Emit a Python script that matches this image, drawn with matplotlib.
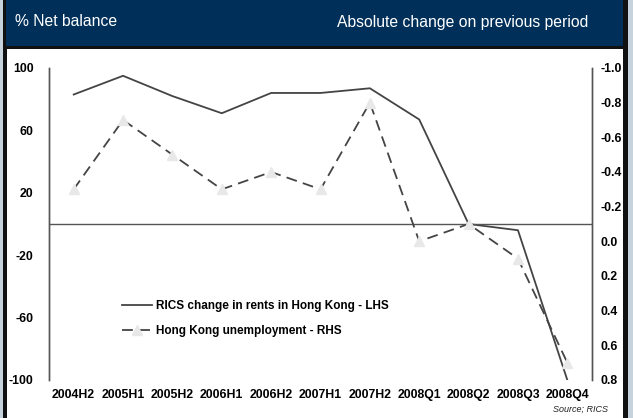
import numpy as np
import matplotlib.pyplot as plt
from matplotlib.patches import Rectangle

plt.rcParams['font.family'] = ['Liberation Sans', 'DejaVu Sans']
plt.rcParams['axes.unicode_minus'] = False

periods = ["2004H2", "2005H1", "2005H2", "2006H1", "2006H2", "2007H1",
           "2007H2", "2008Q1", "2008Q2", "2008Q3", "2008Q4"]
# RICS rents balance (% net balance, left axis)
rics_rents = [83, 95, 82, 71, 84, 84, 87, 67, 0, -4, -100]
# unemployment change (right axis, inverted)
unemployment = [-0.3, -0.7, -0.5, -0.3, -0.4, -0.3, -0.8, 0.0, -0.1, 0.1, 0.7]

left_ticks = [100, 60, 20, -20, -60, -100]
right_ticks = [-1.0, -0.8, -0.6, -0.4, -0.2, 0.0, 0.2, 0.4, 0.6, 0.8]

W, H = 633, 418
fig = plt.figure(figsize=(W / 100, H / 100), dpi=100)
fig.patch.set_facecolor('#c6d3dd')


def box(x, y, w, h, color):
    # rectangle given in pixels from the top-left corner
    fig.add_artist(Rectangle((x / W, 1 - (y + h) / H), w / W, h / H,
                             transform=fig.transFigure, facecolor=color,
                             edgecolor='none', zorder=0))


box(3, -2, 625, H + 4, '#111111')
box(6, -2, 617, 48, '#00305a')
box(7, 49, 616, H, 'white')

fig.text(15 / W, 1 - 22 / H, "% Net balance", color='white', fontsize=11.3,
         va='center', ha='left')
fig.text(588 / W, 1 - 22 / H, "Absolute change on previous period",
         color='white', fontsize=11.3, va='center', ha='right')
fig.text(608 / W, 1 - 409 / H, "Source; RICS", fontsize=6.5, style='italic',
         va='center', ha='right', color='#222222')

ax = fig.add_axes([49 / W, 1 - 380 / H, (592 - 49) / W, (380 - 68) / H])
ax.set_facecolor('none')
x = np.arange(len(periods))

ax.plot(x, rics_rents, color='#444444', lw=1.3,
        label="RICS change in rents in Hong Kong - LHS")
ax.axhline(0, color='#555555', lw=1.0)
ax.set_xlim(-0.5, len(periods) - 0.5)
ax.set_ylim(-100, 100)
ax.set_yticks(left_ticks)
ax.set_xticks(x)
ax.set_xticklabels(periods)

ax2 = ax.twinx()
ax2.plot(x, unemployment, color='#444444', lw=1.3, dashes=(6, 3.5),
         marker='^', markersize=7, markerfacecolor='#e8e8e8',
         markeredgecolor='#e8e8e8', label="Hong Kong unemployment - RHS")
ax2.set_ylim(0.8, -1.0)
ax2.set_yticks(right_ticks)
ax2.set_yticklabels([f"{v:.1f}" for v in right_ticks])

for a in (ax, ax2):
    for s in ('top', 'bottom'):
        a.spines[s].set_visible(False)
    for s in ('left', 'right'):
        a.spines[s].set_color('#555555')
        a.spines[s].set_linewidth(1.0)
    a.tick_params(length=0, labelsize=8.8)
    for lbl in a.get_xticklabels() + a.get_yticklabels():
        lbl.set_fontweight('bold')
ax.tick_params(axis='y', pad=11)
ax.tick_params(axis='x', pad=6.5)
ax2.tick_params(axis='y', pad=6)

h1, l1 = ax.get_legend_handles_labels()
h2, l2 = ax2.get_legend_handles_labels()
leg = ax.legend(h1 + h2, l1 + l2, frameon=False, loc='upper left',
                bbox_to_anchor=(0.115, 0.29), prop={'weight': 'bold', 'size': 8.5},
                handlelength=2.5, handletextpad=0.35, labelspacing=1.1)

fig.savefig('out.png', dpi=100, facecolor=fig.get_facecolor())
